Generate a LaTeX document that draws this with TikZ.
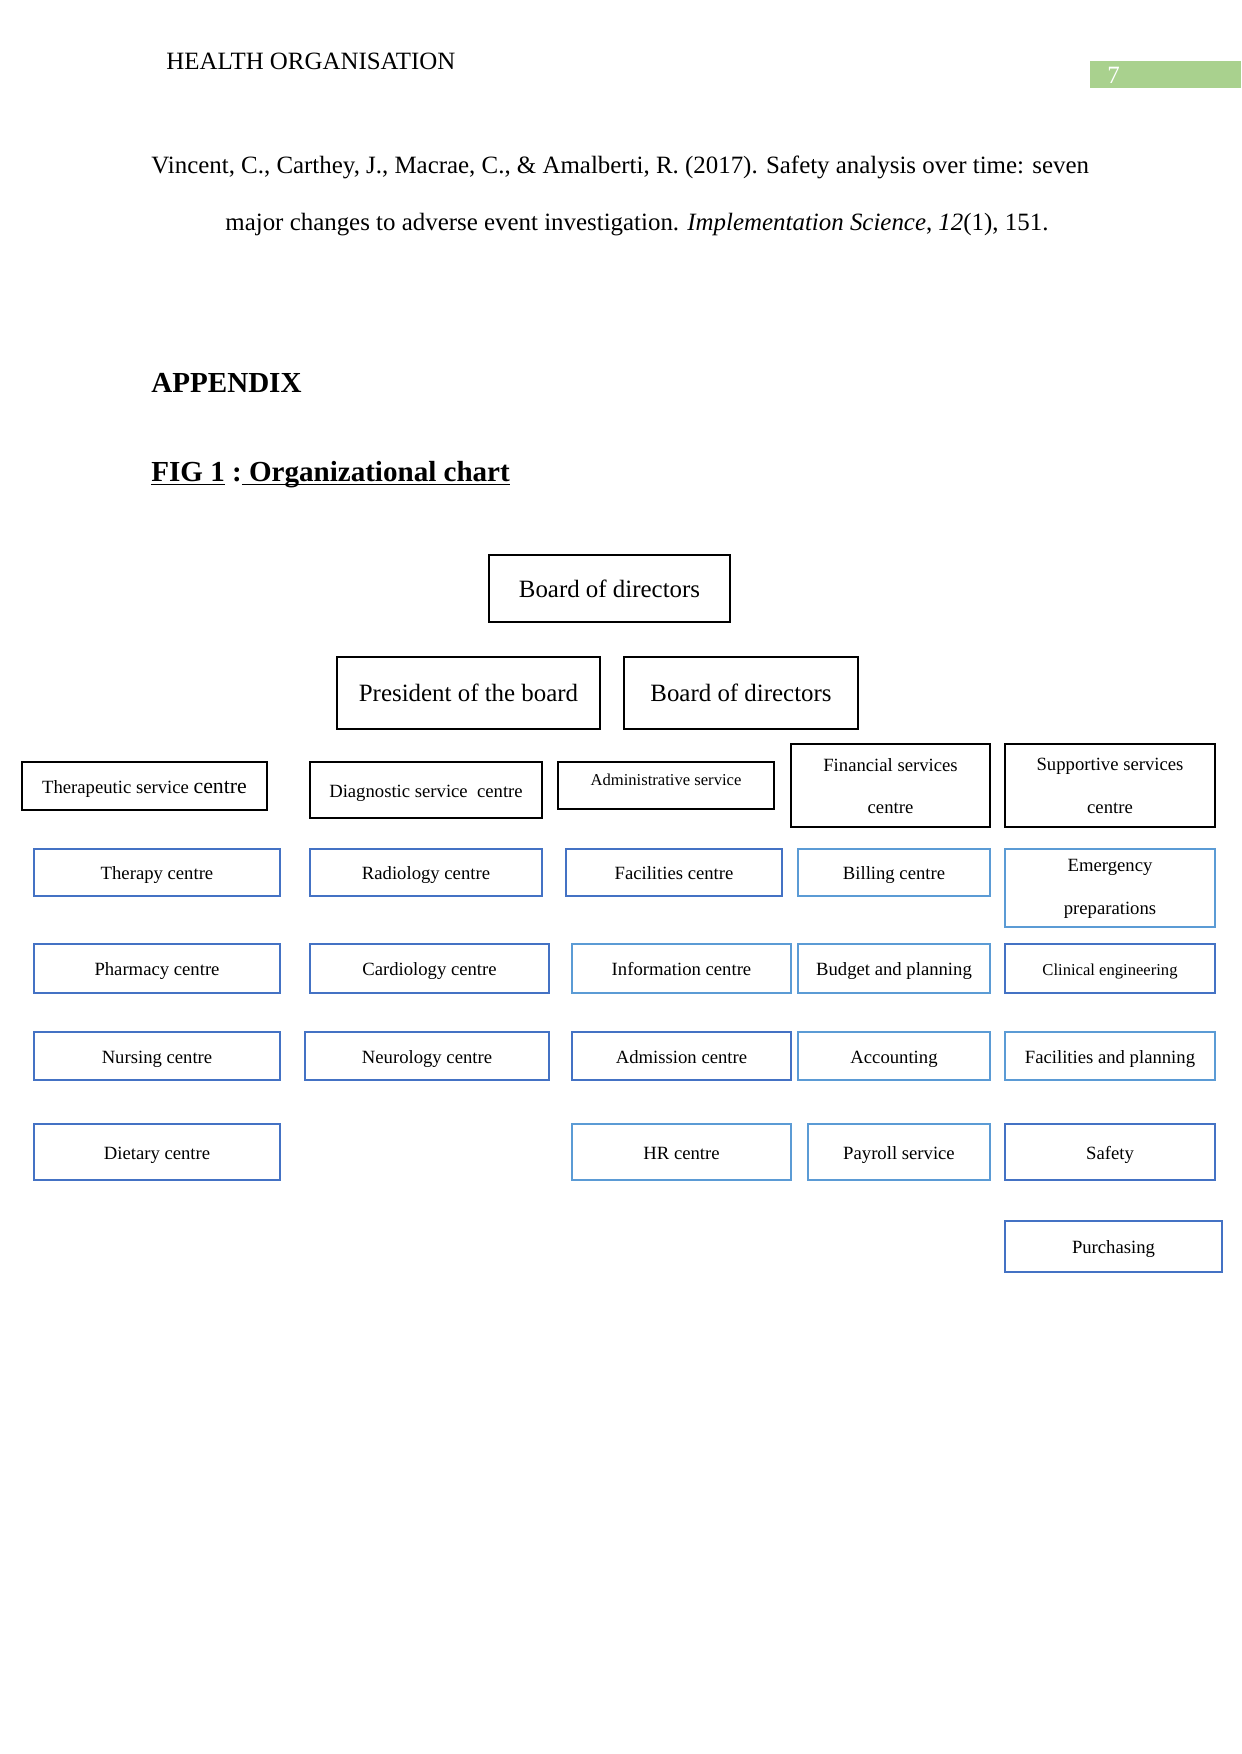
\documentclass[tikz,border=0pt]{standalone}
\usepackage{fontspec}
\setmainfont{Liberation Serif}
\usepackage{tikz}
\definecolor{HOBlue}{HTML}{4472C4}
\definecolor{HOSky}{HTML}{5B9BD5}
\definecolor{HOGreen}{HTML}{A9D18E}
\tikzset{
  topbox/.style={draw=black, line width=1.4pt},
  unitbox/.style={draw=black, line width=1.1pt},
  darkbox/.style={draw=HOBlue, line width=1.1pt},
  lightbox/.style={draw=HOSky, line width=1.1pt},
  cell/.style={text height=8pt, text depth=1pt},
  bodytext/.style={anchor=base west, inner sep=0pt, font=\fontsize{12}{14}\selectfont},
  twoline/.style={align=center, font=\fontsize{9}{20.5}\selectfont}
}

\begin{document}
\begin{tikzpicture}[x=0.16933mm, y=-0.16933mm, font=\fontsize{9}{11}\selectfont]
  \useasboundingbox (0,0) rectangle (1241,1754);
  % page head and reference
  \node[bodytext] (hdr) at (166,69) {HEALTH ORGANISATION};
  \fill[HOGreen] (1090,61) rectangle (1241,88);
  \node[bodytext, text=white] (pgno) at (1107,83) {7};
  \node[bodytext] (refa) at (151,173) {Vincent, C., Carthey, J., Macrae, C., \& Amalberti, R. (2017). Safety analysis over time: seven};
  \node[bodytext] (refb) at (225,230) {major changes to adverse event investigation. \textit{Implementation Science}, \textit{12}(1), 151.};
  \node[bodytext, font=\fontsize{14}{16}\selectfont\bfseries] (appx) at (151,392) {APPENDIX};
  \node[bodytext, font=\fontsize{14}{16}\selectfont\bfseries] (figttl) at (151,481) {\underline{\smash{FIG 1}} :\underline{\smash{ Organizational chart}}};

  % board level
  \draw[topbox] (489,555) rectangle (730,622);
  \node[cell, font=\fontsize{12}{14}\selectfont] (board) at (609.5,590) {Board of directors};
  \draw[topbox] (337,657) rectangle (600,729);
  \node[cell, font=\fontsize{12}{14}\selectfont] (president) at (468.5,694) {President of the board};
  \draw[topbox] (624,657) rectangle (858,729);
  \node[cell, font=\fontsize{12}{14}\selectfont] (boardb) at (741,694) {Board of directors};

  % service centres
  \draw[unitbox] (22,762) rectangle (267,810);
  \node[cell] (therapeutic) at (144.5,786) {Therapeutic service {\fontsize{10.5}{12}\selectfont centre}};
  \draw[unitbox] (310,762) rectangle (542,818);
  \node[cell] (diagnostic) at (426,790) {Diagnostic service \ centre};
  \draw[unitbox] (558,762) rectangle (774,809);
  \node[cell, font=\fontsize{8}{10}\selectfont] (admin) at (666,778) {Administrative service};
  \draw[unitbox] (791,744) rectangle (990,827);
  \node[twoline] (financial) at (890.5,786) {Financial services\\centre};
  \draw[unitbox] (1005,744) rectangle (1215,827);
  \node[twoline] (supportive) at (1110,786) {Supportive services\\centre};

  % row 1
  \draw[darkbox] (34,849) rectangle (280,896);
  \node[cell] (therapy) at (157,872.5) {Therapy centre};
  \draw[darkbox] (310,849) rectangle (542,896);
  \node[cell] (radiology) at (426,872.5) {Radiology centre};
  \draw[darkbox] (566,849) rectangle (782,896);
  \node[cell] (facilities) at (674,872.5) {Facilities centre};
  \draw[lightbox] (798,849) rectangle (990,896);
  \node[cell] (billing) at (894,872.5) {Billing centre};
  \draw[lightbox] (1005,849) rectangle (1215,927);
  \node[twoline] (emergency) at (1110,889) {Emergency\\preparations};

  % row 2
  \draw[darkbox] (34,944) rectangle (280,993);
  \node[cell] (pharmacy) at (157,968.5) {Pharmacy centre};
  \draw[darkbox] (310,944) rectangle (549,993);
  \node[cell] (cardiology) at (429.5,968.5) {Cardiology centre};
  \draw[lightbox] (572,944) rectangle (791,993);
  \node[cell] (information) at (681.5,968.5) {Information centre};
  \draw[lightbox] (798,944) rectangle (990,993);
  \node[cell] (budget) at (894,968.5) {Budget and planning};
  \draw[darkbox] (1005,944) rectangle (1215,993);
  \node[cell, font=\fontsize{8}{10}\selectfont] (clinical) at (1110,968.5) {Clinical engineering};

  % row 3
  \draw[darkbox] (34,1032) rectangle (280,1080);
  \node[cell] (nursing) at (157,1056) {Nursing centre};
  \draw[darkbox] (305,1032) rectangle (549,1080);
  \node[cell] (neurology) at (427,1056) {Neurology centre};
  \draw[darkbox] (572,1032) rectangle (791,1080);
  \node[cell] (admission) at (681.5,1056) {Admission centre};
  \draw[lightbox] (798,1032) rectangle (990,1080);
  \node[cell] (accounting) at (894,1056) {Accounting};
  \draw[lightbox] (1005,1032) rectangle (1215,1080);
  \node[cell] (facplan) at (1110,1056) {Facilities and planning};

  % row 4
  \draw[darkbox] (34,1124) rectangle (280,1180);
  \node[cell] (dietary) at (157,1152) {Dietary centre};
  \draw[lightbox] (572,1124) rectangle (791,1180);
  \node[cell] (hr) at (681.5,1152) {HR centre};
  \draw[lightbox] (808,1124) rectangle (990,1180);
  \node[cell] (payroll) at (899,1152) {Payroll service};
  \draw[darkbox] (1005,1124) rectangle (1215,1180);
  \node[cell] (safety) at (1110,1152) {Safety};

  % row 5
  \draw[darkbox] (1005,1221) rectangle (1222,1272);
  \node[cell] (purchasing) at (1113.5,1246.5) {Purchasing};
\end{tikzpicture}
\end{document}
